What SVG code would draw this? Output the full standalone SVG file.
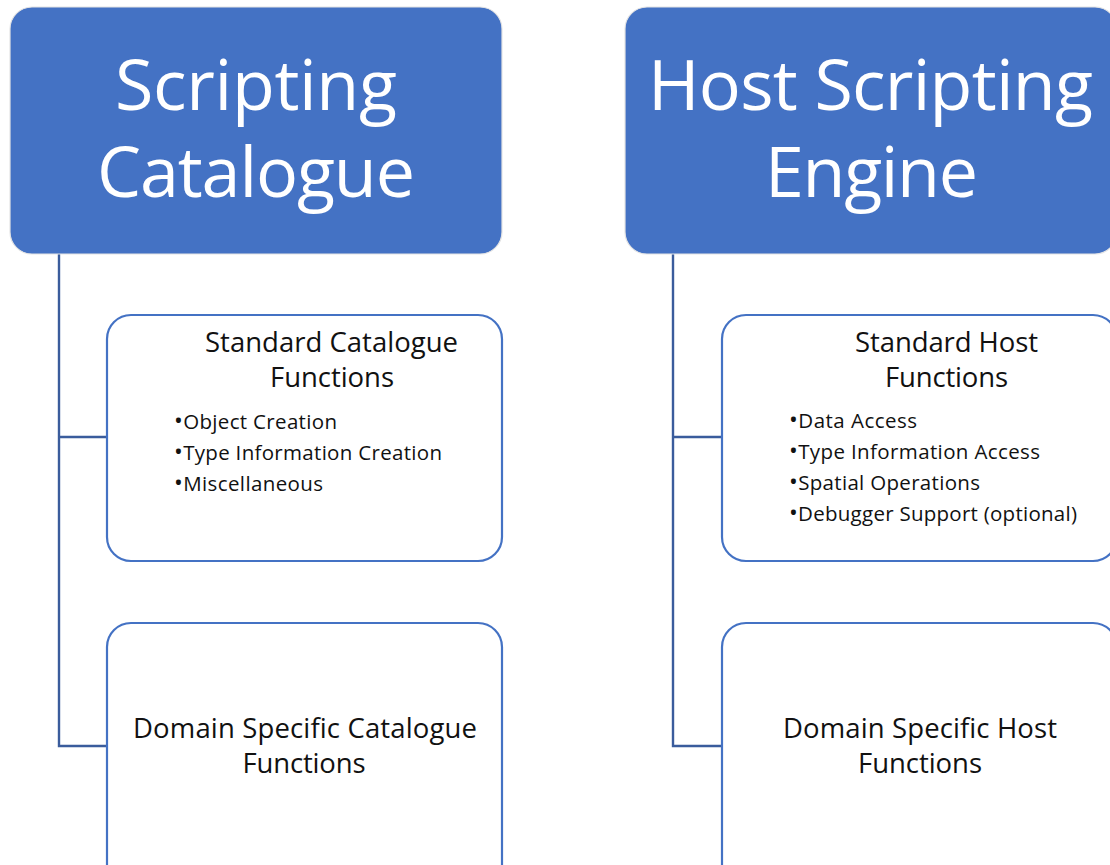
<svg xmlns="http://www.w3.org/2000/svg" width="1110" height="865" viewBox="0 0 1110 865">
<style>
.top{fill:#4472C4;stroke:#e4e4e4;stroke-width:1.2}
.child{fill:#ffffff;stroke:#4472C4;stroke-width:2.2}
.conn{fill:none;stroke:#3A5C9C;stroke-width:2.4}
.tt{font-family:"Open Sans","Liberation Sans",sans-serif;font-size:70px;fill:#ffffff;text-anchor:middle}
.ct{font-family:"Open Sans","Liberation Sans",sans-serif;font-size:27.5px;fill:#111111;text-anchor:middle}
.bl{font-family:"Open Sans","Liberation Sans",sans-serif;font-size:20.5px;fill:#111111}
.bu{font-size:23.5px}
</style>
<rect width="1110" height="865" fill="#ffffff"/>
<g id="connectors">
<path class="conn" d="M59,254 V746 H107 M59,437 H107"/>
<path class="conn" d="M673,254 V746 H722 M673,437 H722"/>
</g>
<g id="scripting-catalogue">
<rect class="top" x="10" y="7" width="492" height="247" rx="22"/>
<text class="tt" x="256" y="110" textLength="282">Scripting</text>
<text class="tt" x="256" y="197" textLength="318">Catalogue</text>
</g>
<g id="standard-catalogue-functions">
<rect class="child" x="107" y="315" width="395" height="246" rx="24"/>
<text class="ct" x="331.5" y="352" textLength="253">Standard Catalogue</text>
<text class="ct" x="332" y="387" textLength="124">Functions</text>
<text class="bl" x="174" y="429" textLength="163"><tspan class="bu">•</tspan>Object Creation</text>
<text class="bl" x="174" y="460" textLength="268"><tspan class="bu">•</tspan>Type Information Creation</text>
<text class="bl" x="174" y="491" textLength="149"><tspan class="bu">•</tspan>Miscellaneous</text>
</g>
<g id="domain-specific-catalogue-functions">
<rect class="child" x="107" y="623" width="395" height="270" rx="24"/>
<text class="ct" x="305" y="738" textLength="344">Domain Specific Catalogue</text>
<text class="ct" x="304" y="773" textLength="123">Functions</text>
</g>
<g id="host-scripting-engine">
<rect class="top" x="625" y="7" width="492" height="247" rx="22"/>
<text class="tt" x="870.5" y="110" textLength="445">Host Scripting</text>
<text class="tt" x="871.5" y="197" textLength="213">Engine</text>
</g>
<g id="standard-host-functions">
<rect class="child" x="722" y="315" width="395" height="246" rx="24"/>
<text class="ct" x="946.5" y="352" textLength="183">Standard Host</text>
<text class="ct" x="946.5" y="387" textLength="123">Functions</text>
<text class="bl" x="789" y="428" textLength="128"><tspan class="bu">•</tspan>Data Access</text>
<text class="bl" x="789" y="459" textLength="251"><tspan class="bu">•</tspan>Type Information Access</text>
<text class="bl" x="789" y="490" textLength="191"><tspan class="bu">•</tspan>Spatial Operations</text>
<text class="bl" x="789" y="521" textLength="288"><tspan class="bu">•</tspan>Debugger Support (optional)</text>
</g>
<g id="domain-specific-host-functions">
<rect class="child" x="722" y="623" width="395" height="270" rx="24"/>
<text class="ct" x="920" y="738" textLength="274">Domain Specific Host</text>
<text class="ct" x="920" y="773" textLength="124">Functions</text>
</g>
</svg>
